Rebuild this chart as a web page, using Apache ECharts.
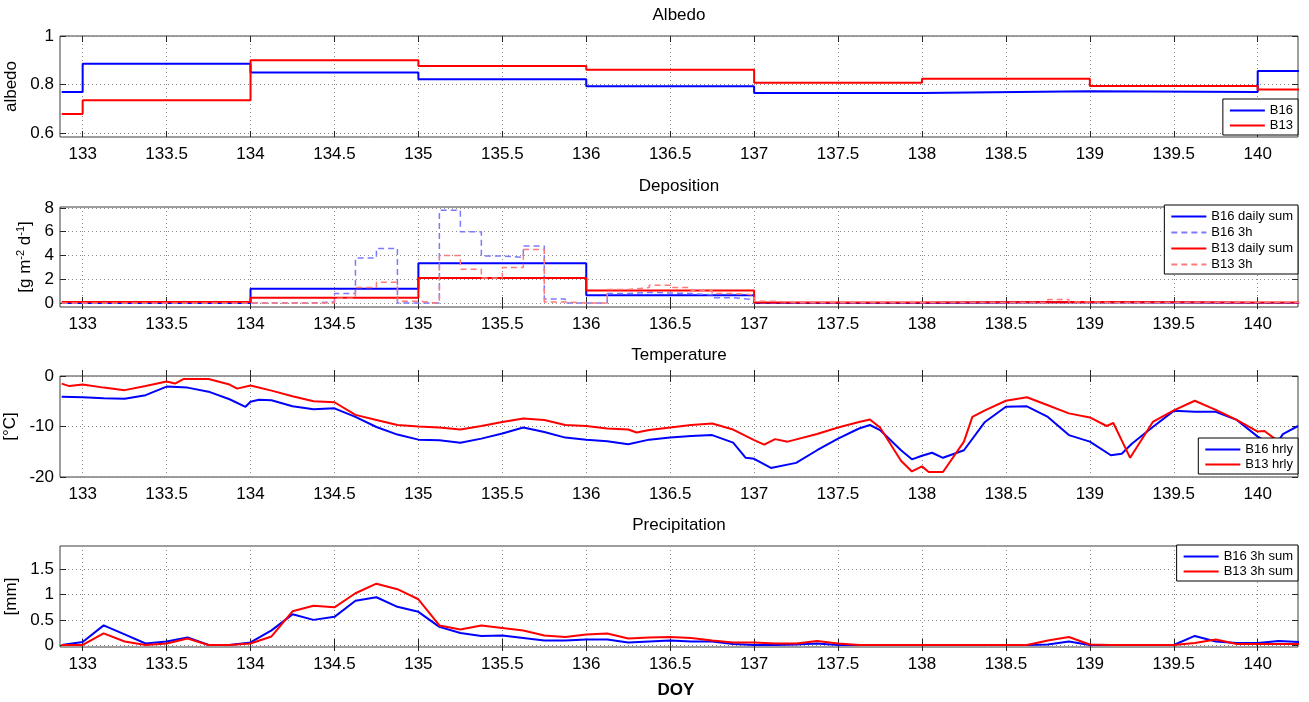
<!DOCTYPE html>
<html>
<head>
<meta charset="utf-8">
<title>Albedo, deposition, temperature, precipitation</title>
<script src="https://cdn.jsdelivr.net/npm/echarts@6/dist/echarts.min.js"></script>
<style>
  html, body { margin: 0; padding: 0; background: #fff; }
  #chart { width: 1309px; height: 702px; }
</style>
</head>
<body>
<div id="chart"></div>
<script>
// ---- data (DOY on x) ----
const doyTicks = [133, 133.5, 134, 134.5, 135, 135.5, 136, 136.5, 137, 137.5, 138, 138.5, 139, 139.5, 140];

// daily step values, each holds from dayEdges[i] to dayEdges[i+1]
const dayEdges = [132.875, 133, 134, 135, 136, 137, 138, 139, 140, 140.25];
const albedoB16 = [0.769, 0.885, 0.849, 0.821, 0.793, 0.765, 0.772, 0.769, 0.856];
const albedoB13 = [0.678, 0.735, 0.900, 0.876, 0.861, 0.807, 0.824, 0.794, 0.779];

const depDailyB16 = [0, 0, 1.2, 3.35, 0.65, 0, 0.1, 0, 0];
const depDailyB13 = [0.1, 0.1, 0.45, 2.1, 1.05, 0.05, 0.1, 0.05, 0.05];

// 3-hourly deposition, first interval starts at 132.875
const dep3hStart = 132.875;
const dep3hStep = 0.125;
const dep3hB16 = [
  0, 0, 0, 0, 0, 0, 0, 0, 0, 0, 0, 0,
  0.1, 0.8, 3.8, 4.6, 0, 0, 7.8, 6.0, 3.95, 3.85, 4.8, 0.35, 0,
  0, 0.8, 0.9, 0.85, 0.8, 0.7, 0.45, 0.3,
  0, 0, 0, 0, 0, 0, 0, 0,
  0.05, 0.05, 0.05, 0.05, 0.05, 0.05, 0.05, 0.05,
  0, 0, 0, 0, 0, 0, 0, 0, 0, 0
];
const dep3hB13 = [
  0, 0, 0, 0, 0, 0, 0, 0, 0, 0, 0, 0, 0,
  0.4, 1.3, 1.75, 0.15, 0, 4.0, 2.85, 2.1, 3.0, 4.5, 0.1, 0,
  0, 1.15, 1.3, 1.5, 1.3, 1.05, 0.8, 0.7,
  0.15, 0.05, 0.05, 0.05, 0.05, 0.05, 0.05, 0.05, 0.05, 0.05, 0.05, 0.05, 0.05, 0.05,
  0.3, 0.1,
  0.05, 0.05, 0.05, 0.05, 0.05, 0.05, 0.05, 0.05, 0.05, 0.05
];

// hourly temperature (read at feature points)
const tempB16X = [132.875, 133, 133.125, 133.25, 133.375, 133.5, 133.625, 133.75, 133.875, 133.97,
  134, 134.05, 134.125, 134.25, 134.375, 134.5, 134.625, 134.75, 134.875, 135,
  135.125, 135.25, 135.375, 135.5, 135.625, 135.75, 135.875, 136, 136.125, 136.25,
  136.375, 136.5, 136.625, 136.75, 136.875, 136.95, 137, 137.1, 137.25, 137.375,
  137.5, 137.625, 137.69, 137.75, 137.875, 137.94, 138, 138.06, 138.125, 138.25,
  138.375, 138.5, 138.625, 138.75, 138.875, 139, 139.125, 139.19, 139.25, 139.375,
  139.5, 139.625, 139.75, 139.875, 140, 140.1, 140.15, 140.24];
const tempB16 = [-4.1, -4.2, -4.4, -4.5, -3.8, -2.1, -2.3, -3.1, -4.6, -6.1,
  -5.1, -4.7, -4.8, -6.0, -6.6, -6.4, -8.1, -10.1, -11.6, -12.6,
  -12.7, -13.2, -12.4, -11.4, -10.2, -11.1, -12.2, -12.6, -12.9, -13.5,
  -12.6, -12.2, -11.9, -11.7, -13.2, -16.2, -16.4, -18.2, -17.2, -14.7,
  -12.4, -10.4, -9.7, -10.7, -14.7, -16.5, -15.8, -15.2, -16.2, -14.7,
  -9.1, -6.1, -6.0, -8.1, -11.7, -13.0, -15.7, -15.4, -13.4, -10.1,
  -6.9, -7.1, -7.1, -8.7, -12.0, -14.0, -11.5, -9.9];
const tempB13X = [132.875, 132.92, 133, 133.125, 133.25, 133.375, 133.5, 133.55, 133.6, 133.75,
  133.875, 133.92, 134, 134.125, 134.25, 134.375, 134.5, 134.625, 134.75, 134.875,
  135, 135.125, 135.25, 135.375, 135.5, 135.625, 135.75, 135.875, 136, 136.125,
  136.25, 136.3, 136.375, 136.5, 136.625, 136.75, 136.875, 137, 137.06, 137.125,
  137.2, 137.375, 137.5, 137.625, 137.69, 137.75, 137.875, 137.94, 138, 138.04,
  138.125, 138.25, 138.3, 138.375, 138.5, 138.625, 138.75, 138.875, 139, 139.1,
  139.14, 139.24, 139.375, 139.5, 139.625, 139.75, 139.875, 140, 140.04, 140.125,
  140.2, 140.24];
const tempB13 = [-1.5, -2.0, -1.7, -2.3, -2.8, -2.0, -1.1, -1.5, -0.6, -0.6,
  -1.7, -2.5, -1.9, -2.9, -4.0, -5.0, -5.2, -7.7, -8.7, -9.7,
  -10.0, -10.2, -10.6, -9.9, -9.1, -8.4, -8.7, -9.7, -9.9, -10.4,
  -10.6, -11.2, -10.7, -10.2, -9.7, -9.4, -10.6, -12.7, -13.6, -12.5,
  -13.0, -11.5, -10.2, -9.1, -8.6, -10.2, -16.8, -18.9, -17.9, -19.0,
  -19.0, -13.0, -8.1, -6.8, -4.9, -4.2, -5.8, -7.4, -8.2, -9.9,
  -9.3, -16.2, -9.1, -6.8, -4.9, -6.7, -8.7, -11.0, -10.9, -13.0,
  -13.5, -12.5];

// 3h precipitation sums, first point at 132.875
const precipStart = 132.875;
const precipStep = 0.125;
const precipB16 = [0, 0.06, 0.39, 0.21, 0.03, 0.07, 0.15, 0, 0, 0.05,
  0.29, 0.61, 0.5, 0.56, 0.88, 0.95, 0.76, 0.66, 0.36, 0.24,
  0.18, 0.19, 0.14, 0.09, 0.09, 0.11, 0.11, 0.05, 0.07, 0.09,
  0.07, 0.07, 0.02, 0, 0, 0.01, 0.03, 0, 0, 0,
  0, 0, 0, 0, 0, 0, 0, 0.01, 0.07, 0,
  0, 0, 0, 0, 0.18, 0.07, 0.04, 0.04, 0.08, 0.06];
const precipB13 = [0, 0, 0.23, 0.07, 0, 0.03, 0.13, 0, 0, 0.03,
  0.17, 0.67, 0.78, 0.75, 1.03, 1.22, 1.11, 0.91, 0.39, 0.31,
  0.39, 0.34, 0.29, 0.19, 0.16, 0.21, 0.23, 0.13, 0.15, 0.16,
  0.14, 0.09, 0.05, 0.05, 0.03, 0.03, 0.08, 0.03, 0, 0,
  0, 0, 0, 0, 0, 0, 0, 0.09, 0.16, 0.01,
  0, 0, 0, 0, 0.04, 0.11, 0.02, 0.02, 0.02, 0.02];

// ---- helpers ----
const FONT = '"Liberation Sans", Arial, sans-serif';
const BLUE = '#0000ff';
const RED = '#ff0000';

function stepData(edges, vals) {
  const d = vals.map((v, i) => [edges[i], v]);
  d.push([edges[edges.length - 1], vals[vals.length - 1]]);
  return d;
}
const dep3hEdges = [];
for (let i = 0; i <= dep3hB16.length; i++) dep3hEdges.push(dep3hStart + i * dep3hStep);
const precipX = precipB16.map((_, i) => precipStart + i * precipStep);
const zip = (xs, ys) => xs.map((x, i) => [x, ys[i]]);

const gridTops = [36, 207, 376, 546];
const gridHeights = [101, 100, 101, 101];
const yRanges = [[0.583, 1], [-0.33, 8.08], [-20, 0], [-0.04, 1.97]];
const yTicks = [[0.6, 0.8, 1], [0, 2, 4, 6, 8], [-20, -10, 0], [0, 0.5, 1, 1.5]];
const yNames = ['albedo', '[g m{s|-2} d{s|-1}]', '[°C]', '[mm]'];
const yNameGaps = [35, 19, 35, 33];

const tickStyle = { color: '#262626', width: 1 };
const gridLine = { show: true, lineStyle: { type: [1, 3], color: '#8a8a8a', width: 1 } };

const xAxis = [];
const yAxis = [];
for (let i = 0; i < 4; i++) {
  xAxis.push({
    type: 'value', gridIndex: i, min: 132.865, max: 140.24, position: 'bottom',
    axisLine: { show: false },
    axisTick: { show: true, inside: true, length: 6, customValues: doyTicks, lineStyle: tickStyle },
    axisLabel: { customValues: doyTicks, fontSize: 17, fontFamily: FONT, color: '#000', margin: 9 },
    splitLine: gridLine
  });
  yAxis.push({
    type: 'value', gridIndex: i, min: yRanges[i][0], max: yRanges[i][1], position: 'left',
    name: yNames[i], nameLocation: 'middle', nameRotate: 90, nameGap: yNameGaps[i],
    nameTextStyle: { fontSize: 17, fontFamily: FONT, color: '#000',
      rich: { s: { fontSize: 11, fontFamily: FONT, color: '#000', padding: [0, 0, 9, 0] } } },
    axisLine: { show: false },
    axisTick: { show: true, inside: true, length: 6, customValues: yTicks[i], lineStyle: tickStyle },
    axisLabel: { customValues: yTicks[i], fontSize: 17, fontFamily: FONT, color: '#000', margin: 6 },
    splitLine: gridLine
  });
}
// mirrored tick marks on top and right
for (let i = 0; i < 4; i++) {
  xAxis.push({
    type: 'value', gridIndex: i, min: 132.865, max: 140.24, position: 'top',
    axisLine: { show: false },
    axisTick: { show: true, inside: true, length: 6, customValues: doyTicks, lineStyle: tickStyle },
    axisLabel: { show: false }, splitLine: { show: false }
  });
  yAxis.push({
    type: 'value', gridIndex: i, min: yRanges[i][0], max: yRanges[i][1], position: 'right',
    axisLine: { show: false },
    axisTick: { show: true, inside: true, length: 6, customValues: yTicks[i], lineStyle: tickStyle },
    axisLabel: { show: false }, splitLine: { show: false }
  });
}

function line(name, gi, data, color, opts) {
  return Object.assign({
    name: name, type: 'line', xAxisIndex: gi, yAxisIndex: gi, data: data,
    symbol: 'none', showSymbol: false, animation: false,
    itemStyle: { color: color },
    lineStyle: { color: color, width: 2 }
  }, opts || {});
}
const dashed = (c) => ({ lineStyle: { color: c, width: 1.5, type: [6, 4] } });

const series = [
  line('B16', 0, stepData(dayEdges, albedoB16), BLUE, { step: 'end' }),
  line('B13', 0, stepData(dayEdges, albedoB13), RED, { step: 'end' }),

  line('B16 daily sum', 1, stepData(dayEdges, depDailyB16), BLUE, { step: 'end' }),
  line('B16 3h', 1, stepData(dep3hEdges, dep3hB16), '#7a7aff', Object.assign({ step: 'end' }, dashed('#7a7aff'))),
  line('B13 daily sum', 1, stepData(dayEdges, depDailyB13), RED, { step: 'end' }),
  line('B13 3h', 1, stepData(dep3hEdges, dep3hB13), '#ff7a7a', Object.assign({ step: 'end' }, dashed('#ff7a7a'))),

  line('B16 hrly', 2, zip(tempB16X, tempB16), BLUE),
  line('B13 hrly', 2, zip(tempB13X, tempB13), RED),

  line('B16 3h sum', 3, zip(precipX, precipB16), BLUE),
  line('B13 3h sum', 3, zip(precipX, precipB13), RED)
];

// legend shows only the line sample, no marker
const legendBase = {
  orient: 'vertical', right: 11, selectedMode: false,
  backgroundColor: '#fff', borderColor: '#000', borderWidth: 1, borderRadius: 0,
  padding: [5, 5, 3, 6], itemWidth: 35, itemHeight: 14, itemGap: 2,
  itemStyle: { opacity: 0 },
  textStyle: { fontSize: 13, fontFamily: FONT, color: '#000' }
};
const legend = [
  Object.assign({}, legendBase, { top: 99, data: ['B16', 'B13'] }),
  Object.assign({}, legendBase, { top: 205, itemGap: 3, data: ['B16 daily sum', 'B16 3h', 'B13 daily sum', 'B13 3h'] }),
  Object.assign({}, legendBase, { top: 438, data: ['B16 hrly', 'B13 hrly'] }),
  Object.assign({}, legendBase, { top: 545, data: ['B16 3h sum', 'B13 3h sum'] })
];

function label(text, y, bold) {
  return {
    type: 'text', x: 679, y: y, silent: true,
    style: { text: text, fill: '#000', font: (bold ? 'bold ' : '') + '17px ' + FONT, align: 'center', verticalAlign: 'top' }
  };
}

const chart = echarts.init(document.getElementById('chart'), null, { renderer: 'canvas' });
chart.setOption({
  backgroundColor: '#fff',
  animation: false,
  grid: gridTops.map((t, i) => ({
    left: 60, right: 11, top: t, height: gridHeights[i],
    show: true, borderColor: '#3c3c3c', borderWidth: 1, backgroundColor: '#fff',
    containLabel: false, outerBoundsMode: 'none'
  })),
  xAxis: xAxis,
  yAxis: yAxis,
  legend: legend,
  series: series,
  graphic: [
    label('Albedo', 7),
    label('Deposition', 178),
    label('Temperature', 347),
    label('Precipitation', 517),
    Object.assign(label('DOY', 682, true), { x: 676 })
  ]
});
</script>
</body>
</html>
